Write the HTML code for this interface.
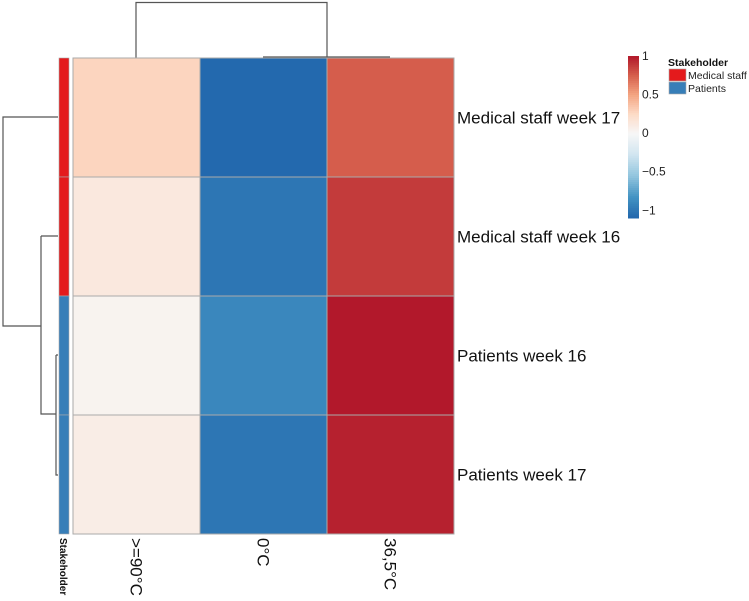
<!DOCTYPE html>
<html><head><meta charset="utf-8"><style>
body{margin:0;background:#fff}
svg{font-family:"Liberation Sans",Arial,sans-serif;display:block}
</style></head><body>
<svg width="749" height="601" viewBox="0 0 749 601">
<g id="dend" fill="none" stroke="#555" stroke-width="1.2">
<path d="M136,58 V2.5 H327 V57 M263,57 H390"/>
<path d="M58,117 H3 V326 H41 M41,236 H58 M41,236 V414 H56 M56,355 H58 M56,355 V475 H58"/>
</g>
<g id="cells"></g>
<g id="anno"></g>
<g id="labels" font-size="17" fill="#111"></g>
<g id="legend"></g>
</svg>
<script>
const rows = ["Medical staff week 17","Medical staff week 16","Patients week 16","Patients week 17"];
const cols = [">=90°C","0°C","36,5°C"];
const stakeholder = ["Medical staff","Medical staff","Patients","Patients"];
const values = [
  [0.28,-1.08,0.76],
  [0.13,-1.0,0.88],
  [0.04,-0.9,1.00],
  [0.09,-1.0,0.97]
];
const legendTicks = [1,0.5,0,-0.5,-1];
const vmin=-1.1, vmax=1.0;
const NS="http://www.w3.org/2000/svg";
const pal=["#2166ac","#4393c3","#92c5de","#d1e5f0","#f7f7f7","#fddbc7","#f4a582","#d6604d","#b2182b"];
function hex(h){return [1,3,5].map(i=>parseInt(h.substr(i,2),16));}
function color(v){
  let t=(v-vmin)/(vmax-vmin); t=Math.max(0,Math.min(1,t));
  let c0=(0-vmin)/(vmax-vmin), u;
  u = t<c0 ? 0.5*t/c0 : 0.5+0.5*(t-c0)/(1-c0);
  let p=u*(pal.length-1), i=Math.min(pal.length-2,Math.floor(p)), f=p-i;
  let a=hex(pal[i]),b=hex(pal[i+1]);
  return "rgb("+a.map((x,k)=>Math.round(x+(b[k]-x)*f)).join(",")+")";
}
function el(tag,attrs,parent){const e=document.createElementNS(NS,tag);for(const k in attrs)e.setAttribute(k,attrs[k]);parent.appendChild(e);return e;}
const X0=73,X1=454,Y0=58,Y1=534;
const cw=(X1-X0)/cols.length, rh=(Y1-Y0)/rows.length;
const xS=j=>X0+j*cw, yS=i=>Y0+i*rh;
const cells=document.getElementById("cells");
values.forEach((r,i)=>r.forEach((v,j)=>{
  const c=el("rect",{x:xS(j),y:yS(i),width:cw,height:rh,fill:color(v),stroke:"#aaa","stroke-width":1},cells);
  
  
}));
const anno=document.getElementById("anno");
const scol={"Medical staff":"#e41a1c","Patients":"#377eb8"};
stakeholder.forEach((s,i)=>{
  const a=el("rect",{x:59,y:yS(i),width:10,height:rh,fill:scol[s],stroke:"#aaa","stroke-width":0.6},anno);
  
  
});
const lab=document.getElementById("labels");
rows.forEach((r,i)=>{
  const t=el("text",{x:457,y:yS(i)+rh/2+6},lab);t.textContent=r;
  
  
});
cols.forEach((c,j)=>{
  const x=xS(j)+cw/2;
  const t=el("text",{x:0,y:0,transform:`translate(${x-6},538) rotate(90)`},lab);t.textContent=c;
  
  
});
const st=el("text",{transform:"translate(60,538) rotate(90)","font-size":"10","font-weight":"bold"},lab);st.textContent="Stakeholder";


const lg=document.getElementById("legend");
const LY0=56,LY1=218;
const ly=v=>LY1-(v-vmin)/(vmax-vmin)*(LY1-LY0);
for(let k=0;k<80;k++){
  const v0=vmin+(vmax-vmin)*k/80, v1=vmin+(vmax-vmin)*(k+1)/80;
  const r=el("rect",{x:628,y:ly(v1),width:11,height:ly(v0)-ly(v1)+0.5,fill:color((v0+v1)/2)},lg);
  
  
}
legendTicks.forEach(v=>{
  const t=el("text",{x:642,y:ly(v)+4,"font-size":"12",fill:"#222"},lg);t.textContent=(v<0?"\u2212"+(-v):v);
  
  
});
const tt=el("text",{x:668,y:66,"font-size":"10.5","font-weight":"bold",fill:"#111"},lg);tt.textContent="Stakeholder";


Object.keys(scol).forEach((s,i)=>{
  const r=el("rect",{x:669,y:69+i*13,width:17,height:12,fill:scol[s],stroke:"#aaa","stroke-width":0.6},lg);
  
  
  const t=el("text",{x:688,y:79+i*13,"font-size":"10.5",fill:"#222"},lg);t.textContent=s;
  
  
});
</script>
</body></html>
